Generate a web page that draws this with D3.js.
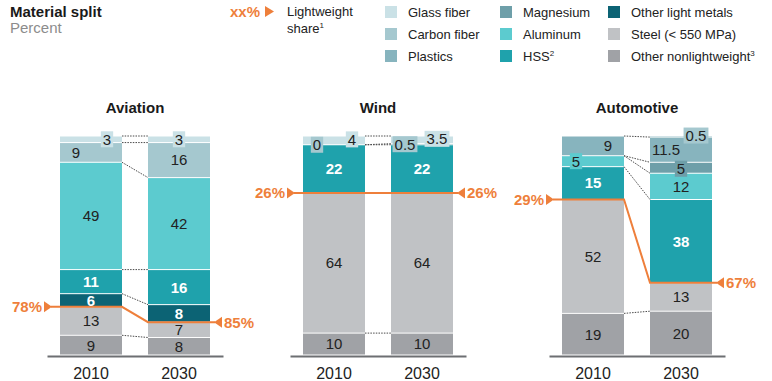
<!DOCTYPE html>
<html><head><meta charset="utf-8">
<script src="https://cdn.jsdelivr.net/npm/d3@7"></script>
<style>
body{margin:0;background:#fff}
svg{display:block;font-family:"Liberation Sans",Arial,sans-serif}
</style>
</head><body>
<svg id="c" width="772" height="381"></svg>
<script>
// ---- data ----
const categories = ["Other nonlightweight","Steel (< 550 MPa)","Other light metals","HSS","Aluminum","Magnesium","Plastics","Carbon fiber","Glass fiber"];
const years = ["2010","2030"];
const panelNames = ["Aviation","Wind","Automotive"];
// values in stack order (bottom to top); null = not present
const aviation2010 = [9,13,6,11,49,null,null,9,3];
const aviation2030 = [8,7,8,16,42,null,null,16,3];
const wind2010 = [10,64,null,22,null,null,null,0,4];
const wind2030 = [10,64,null,22,null,null,null,0.5,3.5];
const automotive2010 = [19,52,null,15,5,null,9,null,null];
const automotive2030 = [20,13,null,38,12,5,11.5,0.5,null];
const aviationShare = [78,85];
const windShare = [26,26];
const automotiveShare = [29,67];
const legendColumns = [["Glass fiber","Carbon fiber","Plastics"],["Magnesium","Aluminum","HSS"],["Other light metals","Steel (< 550 MPa)","Other nonlightweight"]];
const legendSup = {"HSS":"2","Other nonlightweight":"3"};

// ---- styles ----
const colors = {
  "Glass fiber":"#cae1e6","Carbon fiber":"#a5c8cf","Plastics":"#87b4be",
  "Magnesium":"#6e9fa9","Aluminum":"#5ccbcf","HSS":"#1fa2ac",
  "Other light metals":"#0c6374","Steel (< 550 MPa)":"#c0c2c5","Other nonlightweight":"#a0a2a6"
};
const whiteLabel = new Set(["HSS","Other light metals"]);
const orange = "#ee7f3b";
const panelLeft = {"Aviation":60,"Wind":303,"Automotive":562};
const labelTweaks = {
  "Aviation|2010|Glass fiber":{dx:16,box:true},
  "Aviation|2010|Carbon fiber":{dx:-15},
  "Aviation|2030|Glass fiber":{dx:0,box:true},
  "Wind|2010|Carbon fiber":{dx:-17,box:true},
  "Wind|2010|Glass fiber":{dx:18,box:true,dy:-1},
  "Wind|2030|Carbon fiber":{dx:-17,box:true},
  "Wind|2030|Glass fiber":{dx:15,box:true,dy:-1},
  "Automotive|2010|Plastics":{dx:15},
  "Automotive|2010|Aluminum":{dx:-17,box:true},
  "Automotive|2030|Carbon fiber":{dx:15,box:true,dy:-1},
  "Automotive|2030|Plastics":{dx:-15},
  "Automotive|2030|Magnesium":{dx:0,box:true,dy:1}
};

const panels = [
  {name:"Aviation", values:[aviation2010,aviation2030], share:aviationShare},
  {name:"Wind", values:[wind2010,wind2030], share:windShare},
  {name:"Automotive", values:[automotive2010,automotive2030], share:automotiveShare}
];

const svg = d3.select("#c");

// ---- header ----
svg.append("text").attr("x",10).attr("y",17).attr("font-size",15).attr("font-weight","bold").attr("fill","#1a1a1a").text("Material split");
svg.append("text").attr("x",10).attr("y",33).attr("font-size",15).attr("fill","#8c8c8c").text("Percent");

// lightweight legend
svg.append("text").attr("x",260).attr("y",17).attr("text-anchor","end").attr("font-size",15).attr("font-weight","bold").attr("fill",orange).text("xx%");
svg.append("path").attr("d","M265,6 L274,11.5 L265,17 Z").attr("fill",orange);
svg.append("text").attr("x",287).attr("y",16).attr("font-size",13).attr("fill","#222").text("Lightweight");
const sh = svg.append("text").attr("x",287).attr("y",33).attr("font-size",13).attr("fill","#222").text("share");
sh.append("tspan").attr("font-size",8).attr("dy",-5).text("1");

// category legend
const legX = [385,500,608], legRows=[12,34,56];
legendColumns.forEach((col,ci)=>{
  col.forEach((cat,ri)=>{
    svg.append("rect").attr("x",legX[ci]).attr("y",legRows[ri]-6).attr("width",12).attr("height",12).attr("fill",colors[cat]);
    const t = svg.append("text").attr("x",legX[ci]+23).attr("y",legRows[ri]+4.5).attr("font-size",13).attr("fill","#222").text(cat==="HSS"?"HSS":cat);
    if (legendSup[cat]) t.append("tspan").attr("font-size",8).attr("dy",-5).text(legendSup[cat]);
  });
});

// ---- panels ----
const y = d3.scaleLinear().domain([0,100]).range([355,136]);

panels.forEach(p=>{
  const L = panelLeft[p.name];
  const x = d3.scaleBand().domain(years).range([L-13, L+163]).paddingInner(26/88).paddingOuter(13/88);
  const bw = x.bandwidth();
  const g = svg.append("g");

  // title
  g.append("text").attr("x",(x(years[0])+x(years[1])+bw)/2).attr("y",113).attr("text-anchor","middle")
    .attr("font-size",15).attr("font-weight","bold").attr("fill","#1a1a1a").text(p.name);

  const rows = years.map((yr,i)=>{ const o={year:yr}; categories.forEach((c,j)=>{o[c]=p.values[i][j]==null?0:p.values[i][j];}); return o; });
  const stack = d3.stack().keys(categories)(rows);

  // segments
  stack.forEach((s,ci)=>{
    s.forEach((d,yi)=>{
      const v = p.values[yi][ci];
      if (v==null || v<=0) return;
      const top = y(d[1]), bot = y(d[0]);
      g.append("rect").attr("x",x(years[yi])).attr("y",top+0.5).attr("width",bw)
        .attr("height",Math.max(0.6,bot-top-1)).attr("fill",colors[categories[ci]]);
    });
  });

  // connectors
  const lwIdx = categories.indexOf("Steel (< 550 MPa)");
  const orangePair = [stack[lwIdx][0][1], stack[lwIdx][1][1]];
  const seen = new Set();
  stack.forEach((s,ci)=>{
    if (p.values[0][ci]==null || p.values[1][ci]==null) return;
    [[s[0][0],s[1][0]],[s[0][1],s[1][1]]].forEach(pr=>{
      if (pr[0]===0 && pr[1]===0) return;
      if (pr[0]===orangePair[0] && pr[1]===orangePair[1]) return;
      const k = pr.join("|"); if (seen.has(k)) return; seen.add(k);
      g.append("line").attr("x1",x(years[0])+bw).attr("x2",x(years[1]))
        .attr("y1",y(pr[0])).attr("y2",y(pr[1]))
        .attr("stroke","#4a4a4a").attr("stroke-width",1).attr("stroke-dasharray","1.5,1.2");
    });
  });

  // axis
  const ax = g.append("g").attr("transform","translate(0,356)")
    .call(d3.axisBottom(x).tickSize(0).tickSizeOuter(0).tickPadding(12));
  ax.select(".domain").attr("stroke","#6d6f72").attr("stroke-width",2);
  ax.selectAll("text").attr("font-size",16).attr("fill","#222").attr("font-family","\"Liberation Sans\",Arial,sans-serif");

  // orange lightweight line
  const yA = y(100-p.share[0]), yB = y(100-p.share[1]);
  const x0 = x(years[0]), x1 = x(years[1]);
  g.append("path").attr("d",d3.line()([[x0-9,yA],[x0+bw,yA],[x1,yB],[x1+bw+5,yB]]))
    .attr("fill","none").attr("stroke",orange).attr("stroke-width",2);
  g.append("path").attr("d",`M${x0-16},${yA-5.5} L${x0-8},${yA} L${x0-16},${yA+5.5} Z`).attr("fill",orange);
  g.append("text").attr("x",x0-18).attr("y",yA).attr("dy","0.36em").attr("text-anchor","end")
    .attr("font-size",15).attr("font-weight","bold").attr("fill",orange).text(p.share[0]+"%");
  g.append("path").attr("d",`M${x1+bw+12},${yB-5.5} L${x1+bw+4},${yB} L${x1+bw+12},${yB+5.5} Z`).attr("fill",orange);
  g.append("text").attr("x",x1+bw+14).attr("y",yB).attr("dy","0.36em").attr("text-anchor","start")
    .attr("font-size",15).attr("font-weight","bold").attr("fill",orange).text(p.share[1]+"%");

  // value labels
  stack.forEach((s,ci)=>{
    const cat = categories[ci];
    s.forEach((d,yi)=>{
      const v = p.values[yi][ci];
      if (v==null) return;
      const tw = labelTweaks[p.name+"|"+years[yi]+"|"+cat] || {};
      const cx = x(years[yi])+bw/2+(tw.dx||0);
      const cy = (y(d[0])+y(d[1]))/2+(tw.dy||0);
      const lg = g.append("g");
      const t = lg.append("text").attr("x",cx).attr("y",cy).attr("dy","0.36em").attr("text-anchor","middle")
        .attr("font-size",15).attr("font-weight",whiteLabel.has(cat)?"bold":"normal")
        .attr("fill",whiteLabel.has(cat)?"#fff":"#222").text(String(v));
      if (tw.box){
        const bb = t.node().getBBox();
        lg.insert("rect","text").attr("x",bb.x-2).attr("y",cy-8).attr("width",bb.width+4).attr("height",16).attr("fill",colors[cat]);
      }
    });
  });
});
</script>
</body></html>
